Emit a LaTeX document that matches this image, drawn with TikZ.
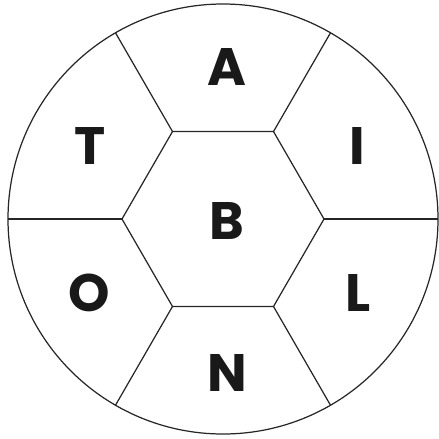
\documentclass[tikz,border=0pt]{standalone}
\usepackage{fontspec}
\setmainfont{Poppins}
\usepackage{tikz}
\usetikzlibrary{calc}

\begin{document}
\begin{tikzpicture}[
    rim/.style={draw=black!85, line width=0.7pt},
    letter/.style={font=\fontsize{30}{30}\selectfont\bfseries, text=black!90, anchor=center, inner sep=0pt}
]
\useasboundingbox (-4.46,-4.38) rectangle (4.32,4.38);
% outer circle and inner hexagon
\draw[rim] (0,0) circle (4.3);
\foreach \i/\a in {0/0,1/60,2/120,3/180,4/240,5/300} {
    \coordinate (h\i) at (\a:2.02);
    \coordinate (o\i) at (\a:4.3);
}
\draw[rim] (h0) -- (h1) -- (h2) -- (h3) -- (h4) -- (h5) -- cycle;
\foreach \i in {0,...,5}
    \draw[rim] (h\i) -- (o\i);
% letters
\node[letter] (B) at (0.08,-0.04) {B};
\node[letter, xshift=0.08cm] (A) at (90:3.04) {A};
\node[letter, xshift=0.06cm, yshift=-0.06cm] (I) at (30:3.04) {I};
\node[letter, xshift=-0.03cm, yshift=-0.06cm] (T) at (150:3.04) {T};
\node[letter, xshift=-0.04cm, yshift=0.04cm] (O) at (210:3.04) {O};
\node[letter, xshift=0.07cm, yshift=0.04cm] (L) at (330:3.04) {L};
\node[letter, xshift=0.08cm, yshift=-0.04cm] (N) at (270:3.04) {N};
\end{tikzpicture}
\end{document}
